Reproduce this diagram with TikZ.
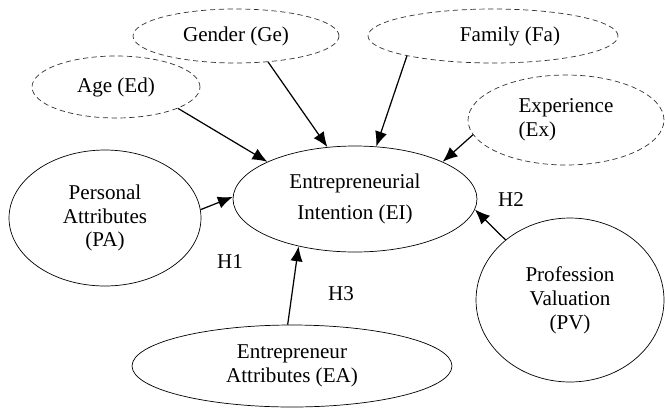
\documentclass[tikz,border=0pt]{standalone}
\usepackage{fontspec}
\setmainfont{Liberation Serif}
\usepackage{tikz}
\usetikzlibrary{arrows.meta,shapes.geometric}

\begin{document}
\begin{tikzpicture}
[x=0.02cm,y=-0.02cm,
latentVar/.style={ellipse,draw,line width=0.4pt,inner sep=0pt,align=center,font=\fontsize{12}{13.6}\selectfont},
controlVar/.style={latentVar,densely dashed,draw=black!80},
pathArrow/.style={-{Latex[length=8.5pt,width=7pt]},line width=0.7pt},
hypLabel/.style={font=\fontsize{12}{13.6}\selectfont}]
\useasboundingbox (0,0) rectangle (665,416);
\node[latentVar,minimum width=4.88cm,minimum height=2.12cm,font=\fontsize{12}{17.6}\selectfont] (ei) at (355,199) {Entrepreneurial\\Intention (EI)};
\node[controlVar,minimum width=3.36cm,minimum height=1.24cm] (age) at (116,87) {Age (Ed)};
\node[controlVar,minimum width=4.12cm,minimum height=1.08cm] (gender) at (236,36) {Gender (Ge)};
\node[controlVar,minimum width=5cm,minimum height=1.08cm,label={[xshift=0.34cm,font=\fontsize{12}{13.6}\selectfont]center:Family (Fa)}] (family) at (493,36) {};
\node[controlVar,minimum width=3.92cm,minimum height=1.8cm,align=left] (exper) at (566,120) {Experience\\(Ex)};
\node[latentVar,minimum width=3.84cm,minimum height=2.72cm] (pa) at (105,218) {Personal\\Attributes\\(PA)};
\node[latentVar,minimum width=3.76cm,minimum height=3.28cm] (pv) at (570,300) {Profession\\Valuation\\(PV)};
\node[latentVar,minimum width=6.4cm,minimum height=1.64cm] (ea) at (292,366) {Entrepreneur\\Attributes (EA)};
\draw[pathArrow] (age.-19) -- (ei.157);
\draw[pathArrow] (gender.-39) -- (ei.118);
\draw[pathArrow] (family.-167) -- (ei.68);
\draw[pathArrow] (exper.-171) -- (ei.23);
\draw[pathArrow] (pa.5) -- (ei.179);
\draw[pathArrow] (pv.137) -- (ei.-5);
\draw[pathArrow] (ea.96) -- (ei.-140);
\node[hypLabel] (h1) at (230,262) {H1};
\node[hypLabel] (h2) at (511,200) {H2};
\node[hypLabel] (h3) at (341,294) {H3};
\end{tikzpicture}
\end{document}
